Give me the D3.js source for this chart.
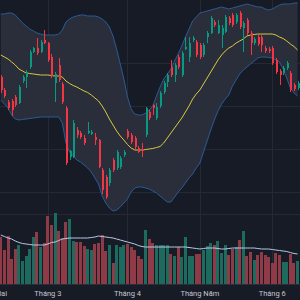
<!DOCTYPE html>
<html>
<head>
<meta charset="utf-8">
<title>Nến + Bollinger</title>
<script src="https://cdn.jsdelivr.net/npm/d3@7"></script>
<style>
  html, body { margin: 0; padding: 0; background: #171b26; }
  svg { display: block; }
</style>
</head>
<body>
<script>
// giá mở / cao / thấp / đóng theo phiên
var opens  = [223,210,198,199,203,197,219,223,233,248,252,248,260,257,243,217,235,216,192,143,
              143,170,167,162,167,166.5,163,160,130,123,117,140,132,133,145,169,165,162,152,151,
              165,188,195,182,194,208,218,233,225,243,225,251.5,243,260,258,255,245,263,267,278,
              267,265,268,282,285,278,287,272,280,267,257,263,263,252,251,252,240,229,227,232,
              227,215,212];
var highs  = [225,212,200,201,205,215,225,230,250,253,262,260,270,258,246,228,242,218,194,150,
              180,173,169,165,178,170,167,161,132,125,132,142,150,144,150,171,167,164,154,157,
              193,190,196,197,209,219,227,240,237,245,249,263,263,264,260,257,257,269,284,280,
              280,275,285,284,287,287,289,279,282,269,263,265,265,254,253,254,242,231,234,239,
              229,217,219];
var lows   = [207,202,190,184,193,196,217,212,231,247,245,247,256,238,222,198,218,196,135,140,
              142,162,161,155,166,165,155,132,106,101,114,128,130,131,143,161,156,151,147,143,
              163,180,185,180,192,206,213,223,218,231,223,250,238,258,243,241,243,257,266,273,
              266,252,267,275,273,276,271,248,265,245,255,254,248,247,247,235,226,215,225,230,
              208,209,210];
var closes = [210,204,192,190,195,213,223,228,248,252,247,258,257,240,224,226,220,198,137,149,
              177,165,163,157,169,168,160,133,110,103,130,130,148,142,148,163,158,153,148,149,
              192,182,192,193,207,217,225,225,235,233,247,253,257,262,245,243,255,267,282,275,
              275,272,283,277,275,285,273,277,267,257,261,256,255,249,249,237,228,225,232,237,
              210,211,217];
var volume = [47,34,48,25,35,39,23,28,35,47,52,37,41,68,59,71,53,46,62,65,
              43,42,42,38,35,34,40,41,49,33,39,21,39,37,39,40,37,34,28,25,
              54,45,41,39,39,39,39,30,28,37,27,47,28,28,30,30,34,38,41,39,
              43,31,39,29,35,37,44,53,28,32,24,29,32,29,27,21,31,29,22,22,
              30,21,23];
var volumeMA = [49,47.5,46,45,43,41.5,40.5,40,39.5,39,39,39,39,40,41.5,42,43.5,45,45.5,46,
                46,46,46,46,46,46.5,47,48,47.5,47,46.5,46,45,44,43,42,41,40,38.5,37.5,
                37,37,37,37,37,37,37,37,37,37,37,37,36.5,36,35.5,35,35.5,36,36,36,
                35.5,35,35,35.5,36,36,36,36,36,36,36,35.5,35,35,35,34.5,34,33.5,33,32.5,
                31.5,30.5,30];
// dải Bollinger
var bbUpper  = [286,286,287,287,285,281,277,274,271,269,267,266,265,265,265,265,266,270,278,281,
                283,284,285,285,284,284,284,283,281,278,273,264,251,236,221,203,191,186,185,185,
                187,190,194,204,213,221,226,231,239,246,254,263,271,279,283,287,288,289,290,291,
                292,293,292,291,292,293,294,295,296,295,294,293,293,291,290,291,293,295,296,296,
                296,297,297];
var bbMiddle = [245,243,241,238,235,231,229,227,226.5,226,225.5,225,225,225,224.5,224,224,223,219,216.5,
                214.5,213,211,209,207.5,205,202,199,194,188,181,175,169,164,160,155.5,152,150,150,150,
                150.5,151,151.5,152.5,153.5,157,162,167,172,177,182,188,194,201,206,210,216,222,228,234,
                240,245,249,252,254,257,259,261,264,265,265.5,266,266,266,266,266,265,263,261.5,259,
                256,253.5,250];
var bbLower  = [200,196,192,185,181,180,180.5,181,181.5,182,182.5,183,183,183,183,183,183,177,157,148,
                144,140,138,135,132,128,122,116,104,97,92,89,90,93,97,101,108,112,113,113,
                112,111,109,107,104,101,98,98,103,108,112,117,122,126,132,137,148,159,170,180,
                189,196,201,205,214,220,226,230,233,236,239,242,243,243,242.5,242,240,238,231,222,
                212,207,204];

var monthTicks  = [-3, 13, 35, 55, 75];
var monthLabels = ["Tháng Hai", "Tháng 3", "Tháng 4", "Tháng Năm", "Tháng 6"];
var priceGrid = [237, 194, 151, 108];
var volGrid = [70];

var w = 300, h = 300;
var up = "#089981", down = "#f23645";
var upVol = "#1d6a5f", downVol = "#8f3b47";

var x = d3.scaleLinear().domain([0, 82]).range([0.8, 297.6]);
var y = d3.scaleLinear().domain([100, 300]).range([200, 0]);
var yVol = d3.scaleLinear().domain([0, 70]).range([284, 214]);

var idx = d3.range(opens.length);

var svg = d3.select("body").append("svg")
    .attr("width", w)
    .attr("height", h);

svg.append("rect").attr("width", w).attr("height", h).attr("fill", "#171b26");

// lưới
svg.append("g").selectAll("line.h")
    .data(priceGrid)
    .enter().append("line")
    .attr("x1", 0).attr("x2", w)
    .attr("y1", function(d){ return Math.round(y(d)) + 0.5; })
    .attr("y2", function(d){ return Math.round(y(d)) + 0.5; })
    .attr("stroke", "#242935");
svg.append("g").selectAll("line.vg")
    .data(volGrid)
    .enter().append("line")
    .attr("x1", 0).attr("x2", w)
    .attr("y1", function(d){ return Math.round(yVol(d)) + 0.5; })
    .attr("y2", function(d){ return Math.round(yVol(d)) + 0.5; })
    .attr("stroke", "#242935");
svg.append("g").selectAll("line.v")
    .data(monthTicks)
    .enter().append("line")
    .attr("x1", function(d){ return Math.round(x(d)) + 0.5; })
    .attr("x2", function(d){ return Math.round(x(d)) + 0.5; })
    .attr("y1", 0).attr("y2", 284)
    .attr("stroke", "#242935");

// khối lượng
svg.append("g").attr("shape-rendering", "crispEdges")
    .selectAll("rect")
    .data(idx)
    .enter().append("rect")
    .attr("x", function(i){ return x(i) - 1.5; })
    .attr("width", 3)
    .attr("y", function(i){ return yVol(volume[i]); })
    .attr("height", function(i){ return yVol(0) - yVol(volume[i]); })
    .attr("fill", function(i){ return closes[i] >= opens[i] ? upVol : downVol; });

svg.append("path")
    .datum(idx)
    .attr("fill", "none")
    .attr("stroke", "#b7c9e6")
    .attr("stroke-width", 1)
    .attr("d", d3.line().x(function(i){ return x(i); }).y(function(i){ return yVol(volumeMA[i]); }));

// dải Bollinger
svg.append("path")
    .datum(idx)
    .attr("fill", "#2a2e3b")
    .attr("d", d3.area()
        .x(function(i){ return x(i); })
        .y0(function(i){ return y(bbLower[i]); })
        .y1(function(i){ return y(bbUpper[i]); }));

[bbUpper, bbLower].forEach(function(s){
    svg.append("path")
        .datum(idx)
        .attr("fill", "none")
        .attr("stroke", "#2b5a94")
        .attr("stroke-width", 1)
        .attr("d", d3.line().x(function(i){ return x(i); }).y(function(i){ return y(s[i]); }));
});

svg.append("path")
    .datum(idx)
    .attr("fill", "none")
    .attr("stroke", "#d9c93c")
    .attr("stroke-width", 1)
    .attr("d", d3.line().x(function(i){ return x(i); }).y(function(i){ return y(bbMiddle[i]); }));

// nến
var candles = svg.append("g").attr("shape-rendering", "crispEdges")
    .selectAll("g")
    .data(idx)
    .enter().append("g");

candles.append("line")
    .attr("x1", function(i){ return Math.round(x(i)) + 0.5; })
    .attr("x2", function(i){ return Math.round(x(i)) + 0.5; })
    .attr("y1", function(i){ return y(highs[i]); })
    .attr("y2", function(i){ return y(lows[i]); })
    .attr("stroke", function(i){ return closes[i] >= opens[i] ? up : down; });

candles.append("rect")
    .attr("x", function(i){ return Math.round(x(i)) - 0.5; })
    .attr("width", 2.4)
    .attr("y", function(i){ return y(Math.max(opens[i], closes[i])); })
    .attr("height", function(i){ return Math.max(1, Math.abs(y(opens[i]) - y(closes[i]))); })
    .attr("fill", function(i){ return closes[i] >= opens[i] ? up : down; });

// trục thời gian
svg.append("line")
    .attr("x1", 0).attr("x2", w)
    .attr("y1", 284.5).attr("y2", 284.5)
    .attr("stroke", "#2a2e39");

svg.append("g").selectAll("text")
    .data(monthTicks)
    .enter().append("text")
    .attr("x", function(d){ return x(d); })
    .attr("y", 295.5)
    .attr("text-anchor", "middle")
    .attr("fill", "#c3c6cd")
    .style("font-family", "Roboto, 'Noto Sans', sans-serif")
    .style("font-size", "7.5px")
    .text(function(d, k){ return monthLabels[k]; });
</script>
</body>
</html>
